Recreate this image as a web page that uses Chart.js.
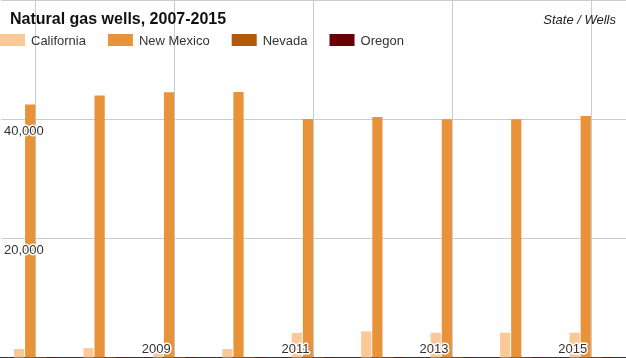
<!DOCTYPE html>
<html>
<head>
<meta charset="utf-8">
<script src="https://cdn.jsdelivr.net/npm/chart.js@4.4.0/dist/chart.umd.min.js"></script>
<style>
  html, body { margin: 0; padding: 0; background: #fff; }
  #wrap { width: 626px; height: 358px; position: relative; }
</style>
</head>
<body>
<div id="wrap"><canvas id="chart-wells"></canvas></div>
<script>
// Data
const years = ['2007', '2008', '2009', '2010', '2011', '2012', '2013', '2014', '2015'];
const xTickLabels = ['2009', '2011', '2013', '2015'];
const yTickValues = [20000, 40000];
const california = [1500, 1650, 1450, 1500, 4200, 4450, 4250, 4250, 4250];
const newMexico = [42500, 44000, 44550, 44600, 40050, 40400, 40000, 40000, 40550];
const nevada = [5, 4, 4, 3, 5, 4, 4, 3, 3];
const oregon = [25, 25, 25, 26, 26, 26, 26, 26, 26];

const FONT = 'Arial, "Liberation Sans", sans-serif';

function haloText(c, txt, x, y) {
  c.strokeStyle = '#fff';
  c.lineWidth = 3;
  c.strokeText(txt, x, y);
  c.fillStyle = '#333';
  c.fillText(txt, x, y);
}

// titre, legende et etiquettes des axes dessines par-dessus la zone du graphique
const overlayPlugin = {
  id: 'overlay',
  afterDatasetsDraw(chart) {
    const c = chart.ctx;
    const xs = chart.scales.x;
    const ys = chart.scales.y;
    const area = chart.chartArea;
    c.save();
    c.lineJoin = 'round';
    c.font = '13px ' + FONT;
    c.textBaseline = 'alphabetic';

    // etiquettes des annees
    c.textAlign = 'right';
    xTickLabels.forEach((lab) => {
      const px = xs.getPixelForValue(years.indexOf(lab)) - 4;
      haloText(c, lab, px, area.bottom - 5.5);
    });

    // etiquettes de l'axe y
    c.textAlign = 'left';
    ys.ticks.forEach((t) => {
      if (!yTickValues.includes(t.value)) return;
      const py = ys.getPixelForValue(t.value);
      haloText(c, t.value.toLocaleString('en-US'), area.left + 3, py + 15.5);
    });
    c.restore();
  },
  afterDraw(chart) {
    const c = chart.ctx;
    c.save();
    c.textBaseline = 'alphabetic';

    c.font = 'bold 16px ' + FONT;
    c.textAlign = 'left';
    c.fillStyle = '#111';
    c.fillText('Natural gas wells, 2007-2015', 10, 24);

    c.font = 'italic 13px ' + FONT;
    c.textAlign = 'right';
    c.fillStyle = '#222';
    c.fillText('State / Wells', 616, 24);

    // legende
    c.font = '13px ' + FONT;
    c.textAlign = 'left';
    let x = 0;
    chart.data.datasets.forEach((ds) => {
      c.fillStyle = ds.backgroundColor;
      c.fillRect(x, 34, 25, 12);
      c.fillStyle = '#333';
      c.fillText(ds.label, x + 31, 45);
      x += 31 + c.measureText(ds.label).width + 22;
    });
    c.restore();
  }
};

const ctx = document.getElementById('chart-wells').getContext('2d');
const chartInstance = new Chart(ctx, {
  type: 'bar',
  data: {
    labels: years,
    datasets: [
      { label: 'California', data: california, backgroundColor: '#fbc998' },
      { label: 'New Mexico', data: newMexico, backgroundColor: '#e8923a' },
      { label: 'Nevada', data: nevada, backgroundColor: '#b35a08' },
      { label: 'Oregon', data: oregon, backgroundColor: '#680006' },
    ],
  },
  options: {
    responsive: true,
    maintainAspectRatio: false,
    animation: false,
    layout: { padding: { left: 1, right: 0, top: 0, bottom: 0 } },
    datasets: {
      bar: { categoryPercentage: 0.64, barPercentage: 0.92 },
    },
    plugins: {
      legend: { display: false },
      title: { display: false },
      tooltip: { enabled: false },
    },
    scales: {
      x: {
        grid: {
          offset: false,
          drawTicks: false,
          color: (c) => (c.index % 2 === 0 ? '#cccccc' : 'rgba(0,0,0,0)'),
        },
        border: { display: true, color: '#333', width: 1.5 },
        ticks: { display: false },
      },
      y: {
        min: 0,
        max: 60000,
        grid: { drawTicks: false, color: '#cccccc' },
        border: { display: false },
        ticks: { display: false, stepSize: 20000 },
      },
    },
  },
  plugins: [overlayPlugin],
});
</script>
</body>
</html>
